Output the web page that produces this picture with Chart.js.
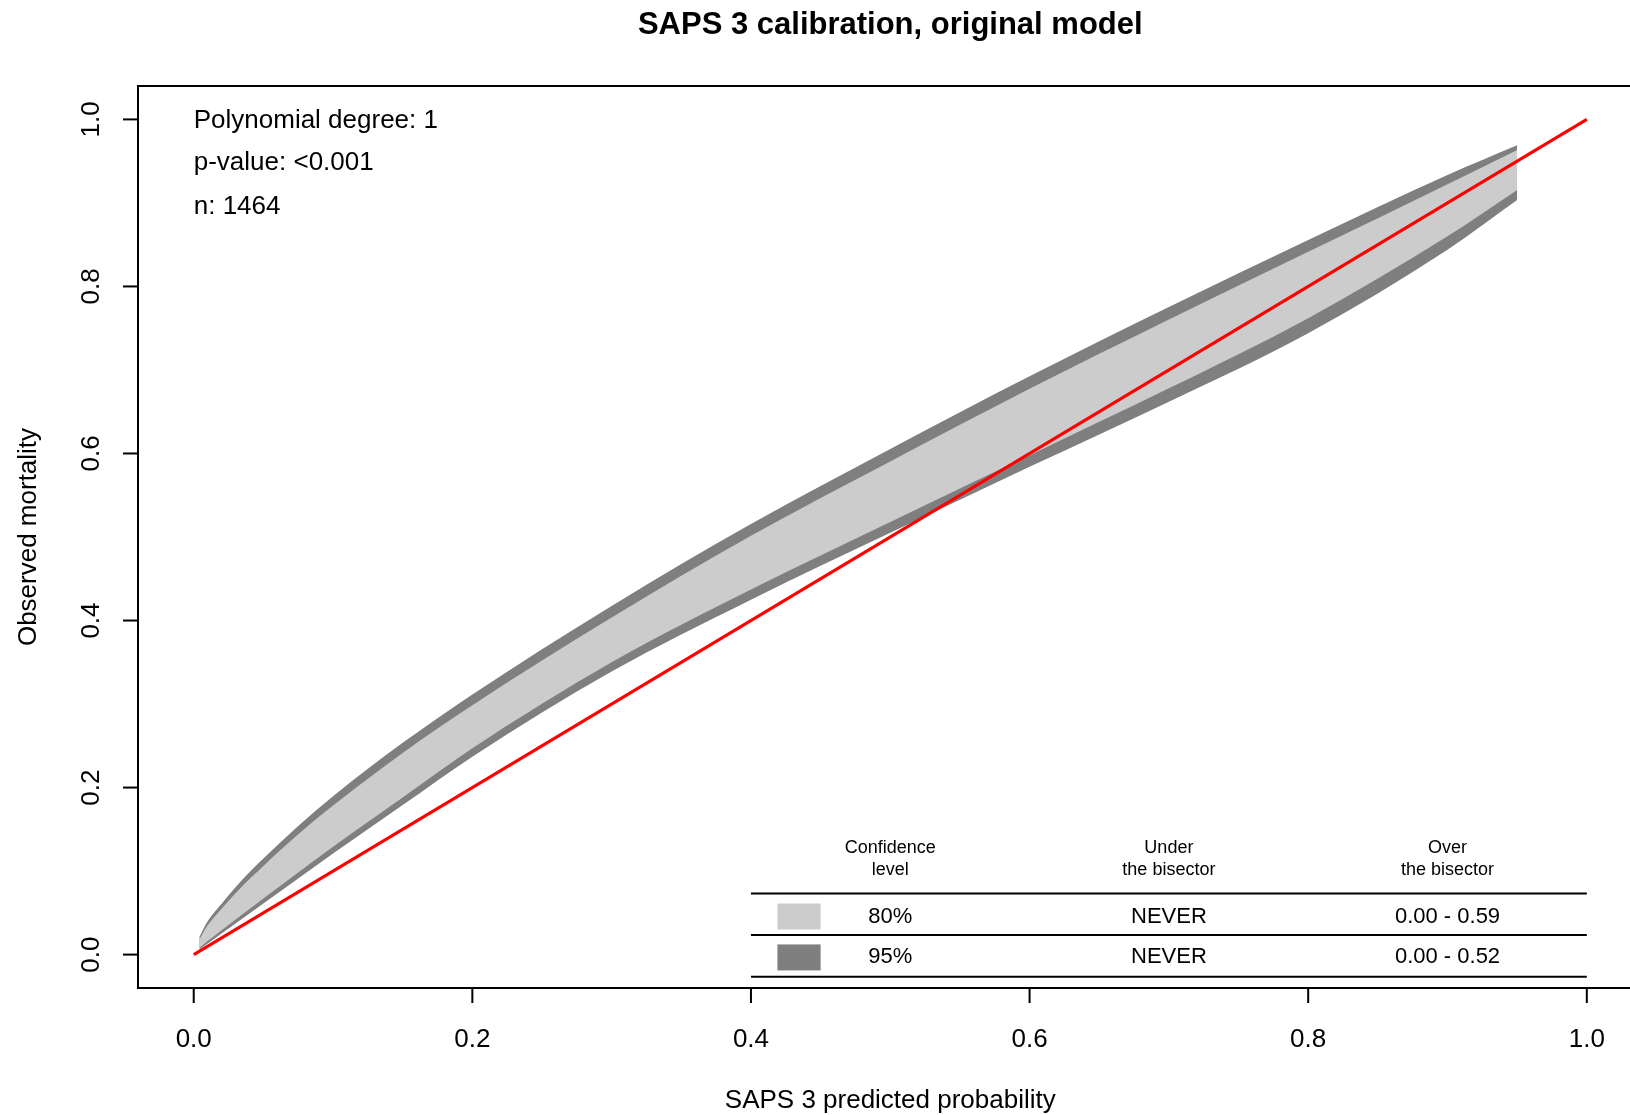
<!DOCTYPE html>
<html>
<head>
<meta charset="utf-8">
<title>SAPS 3 calibration, original model</title>
<script src="https://cdn.jsdelivr.net/npm/chart.js@4.4.1/dist/chart.umd.min.js"></script>
<style>
  html, body { margin: 0; padding: 0; background: #fff; overflow: hidden; }
  #wrap { width: 1630px; height: 1115px; position: relative; }
</style>
</head>
<body>
<div id="wrap"><canvas id="graficoBelt"></canvas></div>
<script>
// predicted probability (x) and the belt edges
const predicted = [0.004, 0.01, 0.02, 0.035, 0.05, 0.075, 0.1, 0.15, 0.2, 0.3, 0.4, 0.5, 0.6, 0.7, 0.8, 0.9, 0.95];
const upper95 = [0.021, 0.040, 0.061, 0.090, 0.115, 0.154, 0.1895, 0.2535, 0.3115, 0.4175, 0.5155, 0.6055, 0.6925, 0.7755, 0.8555, 0.9335, 0.969];
const upper80 = [0.018, 0.035, 0.055, 0.082, 0.106, 0.144, 0.1785, 0.2415, 0.2985, 0.4035, 0.5015, 0.5905, 0.6775, 0.7605, 0.8415, 0.9225, 0.9635];
const lower80 = [0.008, 0.0162, 0.0292, 0.0482, 0.0672, 0.0982, 0.129, 0.188, 0.247, 0.350, 0.437, 0.518, 0.598, 0.678, 0.762, 0.860, 0.9155];
const lower95 = [0.006, 0.0132, 0.0252, 0.0432, 0.0612, 0.0912, 0.121, 0.179, 0.237, 0.339, 0.425, 0.505, 0.584, 0.662, 0.744, 0.844, 0.9035];

// bisector
const bisectorX = [0, 1];
const bisectorY = [0, 1];

// axes
const xTicks = [0, 0.2, 0.4, 0.6, 0.8, 1.0];
const yTicks = [0, 0.2, 0.4, 0.6, 0.8, 1.0];

// text in the plot
const infoLines = ['Polynomial degree: 1', 'p-value: <0.001', 'n: 1464'];
const tableHeader = [['Confidence', 'level'], ['Under', 'the bisector'], ['Over', 'the bisector']];
const confLevels = ['80%', '95%'];
const underBisector = ['NEVER', 'NEVER'];
const overBisector = ['0.00 - 0.59', '0.00 - 0.52'];
const levelColors = ['#CCCCCC', '#7F7F7F'];

const FONT = '"Liberation Sans", Arial, Helvetica, sans-serif';

function puntos(xs, ys) {
  return xs.map((x, i) => ({ x: x, y: ys[i] }));
}

const dibujoR = {
  id: 'dibujoR',
  afterDraw(chart) {
    const ctx = chart.ctx;
    const xs = chart.scales.x;
    const ys = chart.scales.y;
    const area = chart.chartArea;
    const boxRight = xs.getPixelForValue(1.04);

    ctx.save();
    ctx.strokeStyle = '#000';
    ctx.fillStyle = '#000';
    ctx.lineWidth = 2;

    // box
    ctx.strokeRect(area.left, area.top, boxRight - area.left, area.bottom - area.top);

    // x axis
    ctx.font = '26px ' + FONT;
    ctx.textAlign = 'center';
    ctx.textBaseline = 'middle';
    xTicks.forEach(v => {
      const px = xs.getPixelForValue(v);
      ctx.beginPath();
      ctx.moveTo(px, area.bottom);
      ctx.lineTo(px, area.bottom + 15);
      ctx.stroke();
      ctx.fillText(v.toFixed(1), px, area.bottom + 52);
    });

    // y axis
    yTicks.forEach(v => {
      const py = ys.getPixelForValue(v);
      ctx.beginPath();
      ctx.moveTo(area.left - 15, py);
      ctx.lineTo(area.left, py);
      ctx.stroke();
      ctx.save();
      ctx.translate(area.left - 46, py);
      ctx.rotate(-Math.PI / 2);
      ctx.fillText(v.toFixed(1), 0, 0);
      ctx.restore();
    });

    // axis titles
    const midX = (area.left + boxRight) / 2;
    const midY = (area.top + area.bottom) / 2;
    ctx.fillText('SAPS 3 predicted probability', midX, 1101);
    ctx.save();
    ctx.translate(29, midY);
    ctx.rotate(-Math.PI / 2);
    ctx.fillText('Observed mortality', 0, 0);
    ctx.restore();

    // title
    ctx.font = 'bold 31px ' + FONT;
    ctx.fillText('SAPS 3 calibration, original model', midX, 25);

    // info text
    ctx.font = '26px ' + FONT;
    ctx.textAlign = 'left';
    const infoY = [0.998, 0.948, 0.895];
    infoLines.forEach((t, i) => {
      ctx.fillText(t, xs.getPixelForValue(0), ys.getPixelForValue(infoY[i]));
    });

    // table
    const colX = [0.5, 0.7, 0.9].map(v => xs.getPixelForValue(v));
    const tL = xs.getPixelForValue(0.4);
    const tR = xs.getPixelForValue(1.0);
    ctx.textAlign = 'center';
    ctx.font = '18px ' + FONT;
    tableHeader.forEach((h, i) => {
      ctx.fillText(h[0], colX[i], ys.getPixelForValue(0.127));
      ctx.fillText(h[1], colX[i], ys.getPixelForValue(0.101));
    });
    [0.0731, 0.0234, -0.0264].forEach(v => {
      const py = ys.getPixelForValue(v);
      ctx.beginPath();
      ctx.moveTo(tL, py);
      ctx.lineTo(tR, py);
      ctx.stroke();
    });
    ctx.font = '22px ' + FONT;
    const rowY = [0.0456, -0.0034];
    confLevels.forEach((lv, i) => {
      const py = ys.getPixelForValue(rowY[i]);
      const sx0 = xs.getPixelForValue(0.419);
      const sx1 = xs.getPixelForValue(0.450);
      ctx.fillStyle = levelColors[i];
      ctx.fillRect(sx0, py - 13, sx1 - sx0, 26);
      ctx.fillStyle = '#000';
      ctx.fillText(lv, colX[0], py);
      ctx.fillText(underBisector[i], colX[1], py);
      ctx.fillText(overBisector[i], colX[2], py);
    });
    ctx.restore();
  }
};

const ctxBelt = document.getElementById('graficoBelt');
new Chart(ctxBelt, {
  type: 'line',
  data: {
    datasets: [
      {
        label: 'bisector',
        data: puntos(bisectorX, bisectorY),
        borderColor: '#FF0000',
        borderWidth: 3,
        pointRadius: 0,
        fill: false
      },
      {
        label: '80% upper',
        data: puntos(predicted, upper80),
        borderWidth: 0,
        borderColor: 'rgba(0,0,0,0)',
        backgroundColor: levelColors[0],
        pointRadius: 0,
        cubicInterpolationMode: 'monotone',
        fill: '+1'
      },
      {
        label: '80% lower',
        data: puntos(predicted, lower80),
        borderWidth: 0,
        borderColor: 'rgba(0,0,0,0)',
        pointRadius: 0,
        cubicInterpolationMode: 'monotone',
        fill: false
      },
      {
        label: '95% upper',
        data: puntos(predicted, upper95),
        borderWidth: 0,
        borderColor: 'rgba(0,0,0,0)',
        backgroundColor: levelColors[1],
        pointRadius: 0,
        cubicInterpolationMode: 'monotone',
        fill: '+1'
      },
      {
        label: '95% lower',
        data: puntos(predicted, lower95),
        borderWidth: 0,
        borderColor: 'rgba(0,0,0,0)',
        pointRadius: 0,
        cubicInterpolationMode: 'monotone',
        fill: false
      }
    ]
  },
  options: {
    responsive: true,
    maintainAspectRatio: false,
    animation: false,
    layout: {
      padding: { left: 138, top: 86, right: 0, bottom: 127 }
    },
    scales: {
      x: { type: 'linear', min: -0.04, max: 1.031, display: false },
      y: { type: 'linear', min: -0.04, max: 1.04, display: false }
    },
    plugins: {
      legend: { display: false },
      tooltip: { enabled: false },
      title: { display: false }
    }
  },
  plugins: [dibujoR]
});
</script>
</body>
</html>
